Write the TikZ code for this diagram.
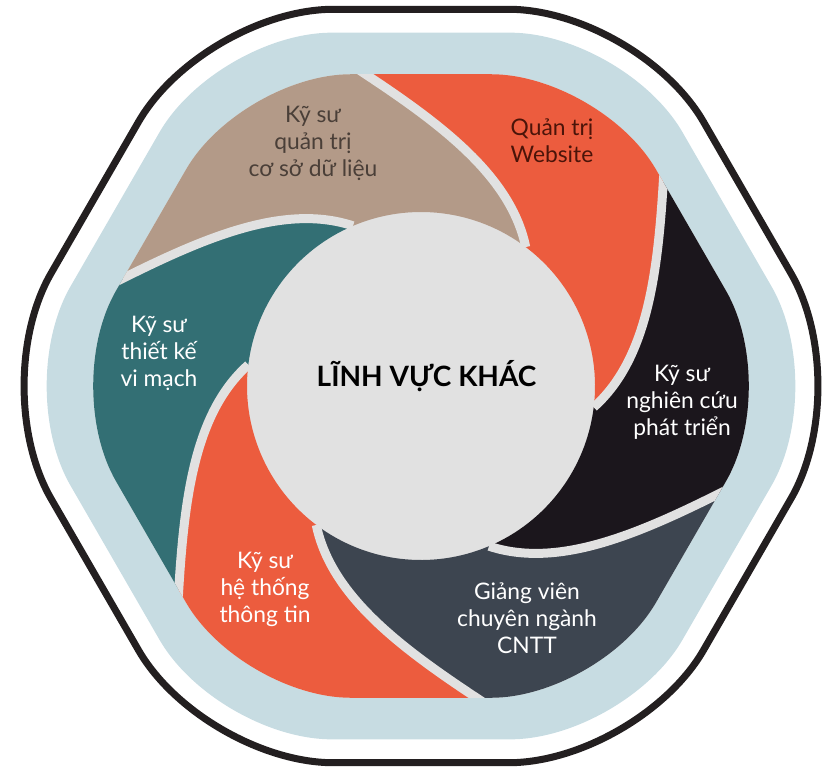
\documentclass[tikz,border=0pt]{standalone}
\usepackage{fontspec}
\setmainfont{Lato}
\definecolor{outlinec}{HTML}{231F20}
\definecolor{bluec}{HTML}{C7DCE2}
\definecolor{grayc}{HTML}{E1E1E1}
\definecolor{pOrange}{HTML}{EC5C3E}
\definecolor{pTan}{HTML}{B39A88}
\definecolor{pTeal}{HTML}{336F74}
\definecolor{pSlate}{HTML}{3D4550}
\definecolor{pBlack}{HTML}{1B161C}
\definecolor{tanTxt}{HTML}{4A3F38}
\definecolor{orTxt}{HTML}{4B1409}
\tikzset{
  hexframe/.style={shift={(421,-386)}},
  lbl/.style={align=center, font=\fontsize{22.8}{27}\selectfont, inner sep=0pt},
  gapline/.style={line width=9pt, draw=grayc, line cap=butt}
}
\begin{document}
\begin{tikzpicture}[x=1pt,y=1pt]
\useasboundingbox (0,0) rectangle (837,-771);
% outer outline
\draw[hexframe, line width=7pt, draw=outlinec, rounded corners=130pt]
  (0:435) -- (60:435) -- (120:435) -- (180:435) -- (240:435) -- (300:435) -- cycle;
% blue band
\fill[hexframe, bluec, rounded corners=115pt]
  (0:408) -- (60:408) -- (120:408) -- (180:408) -- (240:408) -- (300:408) -- cycle;
% inner gray
\fill[hexframe, grayc, rounded corners=110pt]
  (0:360) -- (60:360) -- (120:360) -- (180:360) -- (240:360) -- (300:360) -- cycle;
% petals
\begin{scope}
\clip[hexframe, rounded corners=110pt]
  (0:360) -- (60:360) -- (120:360) -- (180:360) -- (240:360) -- (300:360) -- cycle;
\foreach \k/\col in {0/pOrange,1/pTan,2/pTeal,3/pOrange,4/pSlate,5/pBlack}{
  \fill[\col, hexframe, rotate=-7+60*\k]
    (0:174) arc[start angle=0, end angle=60, radius=174]
    .. controls (75.88:241.2) and (99.42:283.5) .. (114.88:366.8)
    -- (114.88:520) -- (54.88:520) -- (54.88:366.8)
    .. controls (39.42:283.5) and (15.88:241.2) .. (0:174) -- cycle;
}
\foreach \k in {0,...,5}{
  \draw[gapline, hexframe, rotate=-7+60*\k]
    (0:174) .. controls (15.88:241.2) and (39.42:283.5) .. (54.88:366.8);
}
\end{scope}
% labels
\node[lbl, text=tanTxt] (dbadmin) at (313,-143) {Kỹ sư\\quản trị\\cơ sở dữ liệu};
\node[lbl, text=orTxt] (webadmin) at (552,-141) {Quản trị\\Website};
\node[lbl, text=white] (research) at (682,-402) {Kỹ sư\\nghiên cứu\\phát triển};
\node[lbl, text=white] (lecturer) at (527,-618) {Giảng viên\\chuyên ngành\\CNTT};
\node[lbl, text=white] (infosys) at (265,-589) {Kỹ sư\\hệ thống\\thông tin};
\node[lbl, text=white] (chip) at (159,-353) {Kỹ sư\\thiết kế\\vi mạch};
\node[font=\fontsize{28}{34}\selectfont\bfseries, text=black, inner sep=0pt] (center) at (426.5,-376) {LĨNH VỰC KHÁC};
\end{tikzpicture}
\end{document}
